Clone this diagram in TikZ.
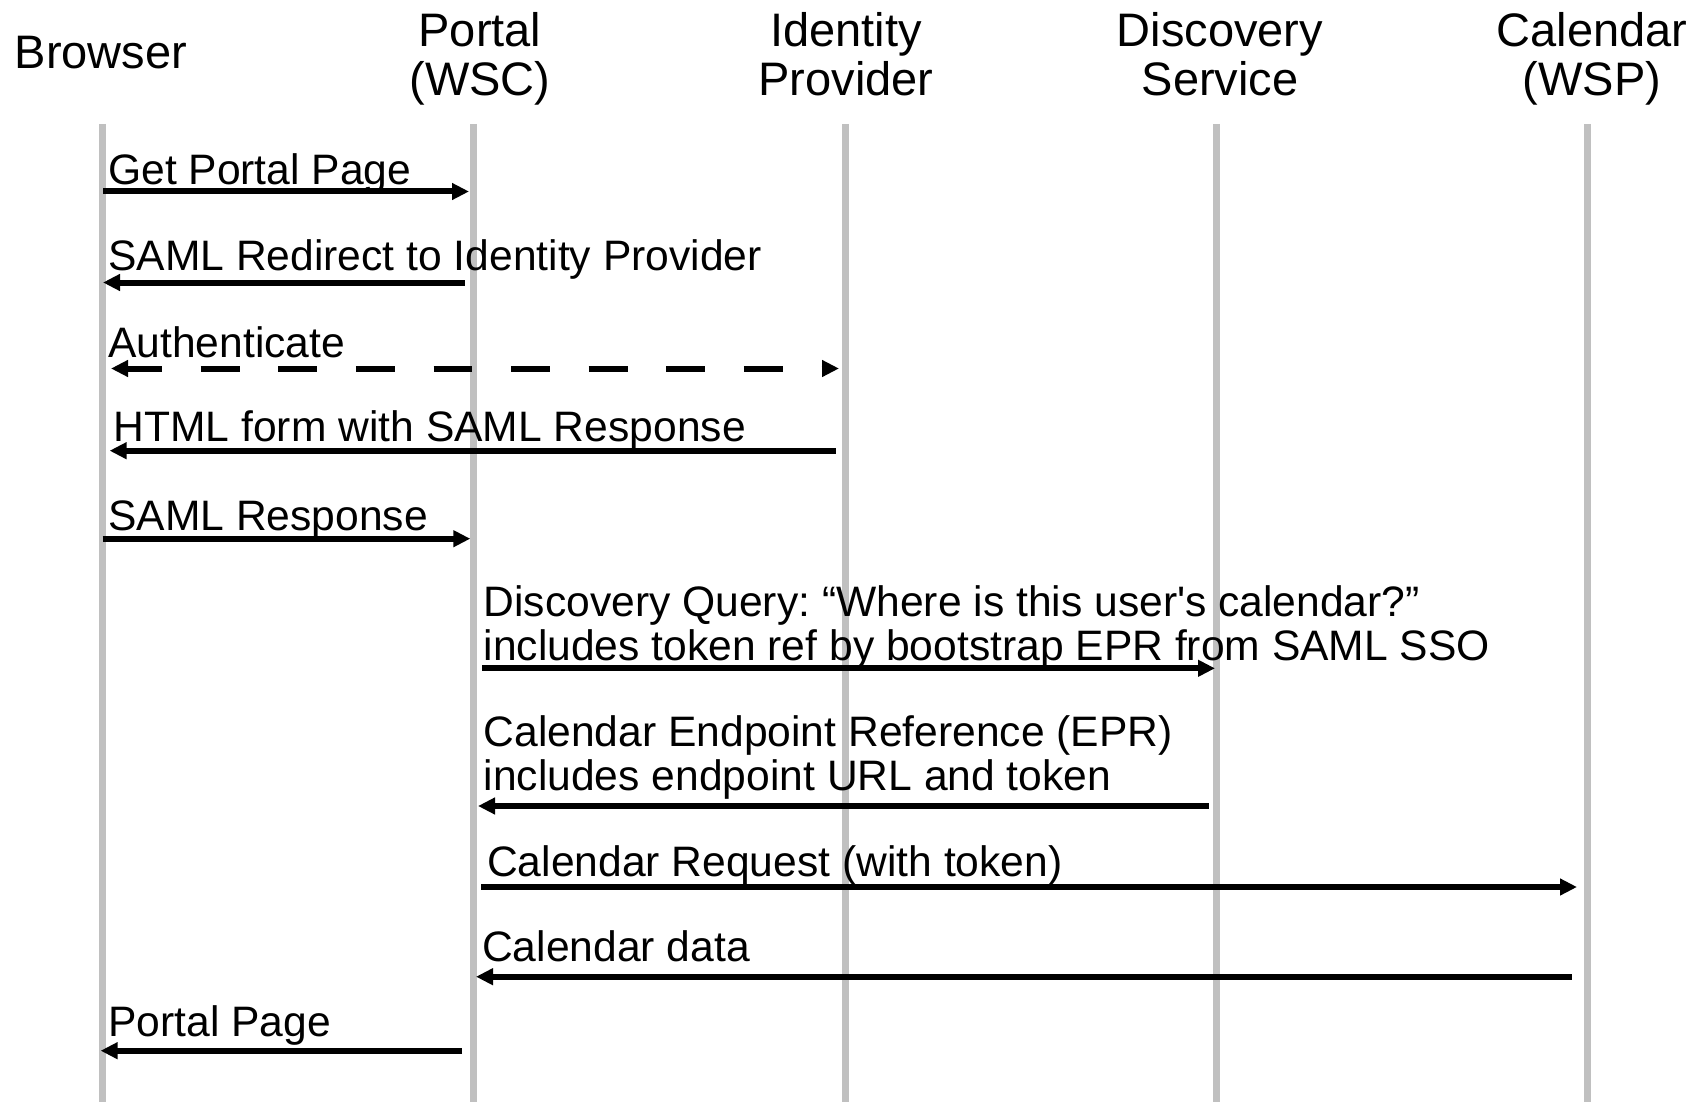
\documentclass[tikz,border=0pt]{standalone}
\usepackage{fontspec}
\setmainfont{Liberation Sans}
\usetikzlibrary{arrows.meta}
\definecolor{lifegray}{HTML}{C0C0C0}
\frenchspacing
\begin{document}
\begin{tikzpicture}[x=1pt,y=-1pt,
  head/.style={font=\fontsize{47}{49.5}\selectfont, inner sep=0pt, anchor=base, align=center},
  msg/.style={font=\fontsize{42.6}{44}\selectfont, inner sep=0pt, anchor=base west, align=left},
  lifeline/.style={draw=lifegray, line width=7pt},
  call/.style={line width=6pt, -{Triangle[length=17pt,width=16pt]}},
  async/.style={line width=6pt, {Triangle[length=17pt,width=16pt]}-{Triangle[length=17pt,width=16pt]},
                dash pattern=on 38.8pt off 38.8pt, dash phase=3.8pt}]
\useasboundingbox (0,0) rectangle (1696,1102);

% participants (multi-line nodes sit on the baseline of their last line)
\node[head] (hb) at (101,68.5) {Browser};
\node[head] (hp) at (480,96) {Portal\\(WSC)};
\node[head] (hi) at (846,96) {Identity\\Provider};
\node[head] (hd) at (1220,96) {Discovery\\Service};
\node[head] (hc) at (1592,96) {Calendar\\(WSP)};

% lifelines
\coordinate (lb) at (102,124);  \coordinate (lb2) at (102,1102);
\coordinate (lp) at (473,124);  \coordinate (lp2) at (473,1102);
\coordinate (li) at (845,124);  \coordinate (li2) at (845,1102);
\coordinate (ld) at (1216,124); \coordinate (ld2) at (1216,1102);
\coordinate (lc) at (1587,124); \coordinate (lc2) at (1587,1102);
\draw[lifeline] (lb) -- (lb2);
\draw[lifeline] (lp) -- (lp2);
\draw[lifeline] (li) -- (li2);
\draw[lifeline] (ld) -- (ld2);
\draw[lifeline] (lc) -- (lc2);

% message end points
\coordinate (m1a) at (103,191.5);   \coordinate (m1b) at (469,191.5);
\coordinate (m2a) at (464.5,282.5); \coordinate (m2b) at (103,282.5);
\coordinate (m3a) at (111,368.5);   \coordinate (m3b) at (839,368.5);
\coordinate (m4a) at (835.5,450.7); \coordinate (m4b) at (109.6,450.7);
\coordinate (m5a) at (102.7,538.7); \coordinate (m5b) at (470.3,538.7);
\coordinate (m6a) at (482,668.3);   \coordinate (m6b) at (1215,668.3);
\coordinate (m7a) at (1208.8,806);  \coordinate (m7b) at (478,806);
\coordinate (m8a) at (481,887);     \coordinate (m8b) at (1577,887);
\coordinate (m9a) at (1571.6,976.7);\coordinate (m9b) at (476,976.7);
\coordinate (m10a) at (462,1050.7); \coordinate (m10b) at (100.6,1050.7);

% labels
\node[msg] (t1) at (108,185) {Get Portal Page};
\node[msg] (t2) at (108,270) {SAML Redirect to Identity Provider};
\node[msg] (t3) at (108,357.3) {Authenticate};
\node[msg] (t4) at (113.5,441.7) {HTML form with SAML Response};
\node[msg] (t5) at (108,530) {SAML Response};
\node[msg] (t6) at (483.5,660) {Discovery Query: “Where is this user\textquotesingle s calendar?”\\includes token ref by bootstrap EPR from SAML SSO};
\node[msg] (t7) at (483.5,790) {Calendar Endpoint Reference (EPR)\\includes endpoint URL and token};
\node[msg] (t8) at (487,876) {Calendar Request (with token)};
\node[msg] (t9) at (482,961.7) {Calendar data};
\node[msg] (t10) at (108,1036.7) {Portal Page};

% messages
\draw[call] (m1a) -- (m1b);
\draw[call] (m2a) -- (m2b);
\draw[async] (m3a) -- (m3b);
\draw[call] (m4a) -- (m4b);
\draw[call] (m5a) -- (m5b);
\draw[call] (m6a) -- (m6b);
\draw[call] (m7a) -- (m7b);
\draw[call] (m8a) -- (m8b);
\draw[call] (m9a) -- (m9b);
\draw[call] (m10a) -- (m10b);
\end{tikzpicture}
\end{document}
